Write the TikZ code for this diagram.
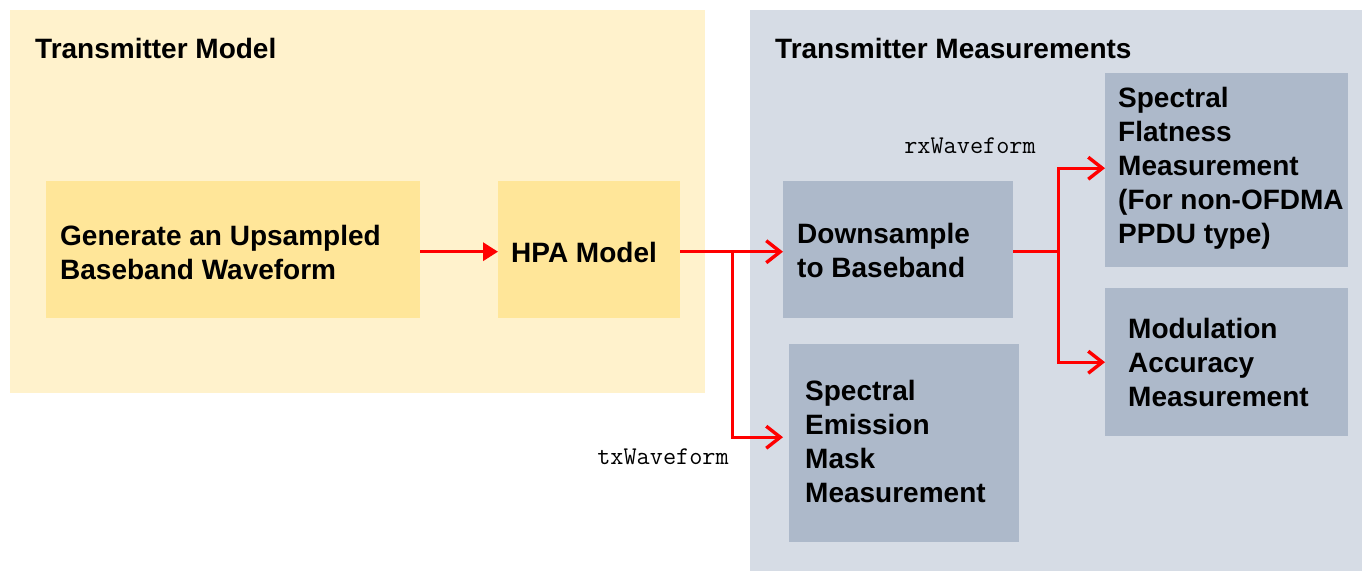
\documentclass[tikz,border=0pt]{standalone}
\usepackage{fontspec}
\setmainfont{Liberation Sans}
\usetikzlibrary{arrows.meta,calc}
\definecolor{creambg}{HTML}{FFF2CC}
\definecolor{yelbox}{HTML}{FFE699}
\definecolor{bluebg}{HTML}{D6DCE5}
\definecolor{bluebox}{HTML}{ADB9CA}
\begin{document}
\begin{tikzpicture}[x=1pt,y=-1pt,
  region/.style={fill=#1, draw=none, inner sep=0pt, anchor=north west},
  boxnode/.style={fill=#1, draw=none, inner sep=0pt, anchor=north west},
  lbl/.style={font=\bfseries\fontsize{28}{34}\selectfont, align=left, anchor=west, inner sep=0pt},
  titletxt/.style={font=\bfseries\fontsize{28}{34}\selectfont, anchor=west, inner sep=0pt},
  code/.style={font=\ttfamily\fontsize{25.5}{30}\selectfont, inner sep=0pt},
  wire/.style={draw=red, line width=3.4pt},
  flow/.style={wire, -{Straight Barb[length=14pt,width=22pt]}},
  flowfill/.style={wire, -{Triangle[length=15pt,width=18pt]}},
]
\useasboundingbox[fill=white] (0,0) rectangle (1362,571);
% regions
\node[region=creambg, minimum width=695pt, minimum height=383pt] (txreg) at (10,10) {};
\node[region=bluebg, minimum width=612pt, minimum height=561pt] (msreg) at (750,10) {};
\node[titletxt] (txtitle) at (35,48) {Transmitter Model};
\node[titletxt] (mstitle) at (775,48) {Transmitter Measurements};
% boxes
\node[boxnode=yelbox, minimum width=374pt, minimum height=137pt] (gen) at (46,181) {};
\node[boxnode=yelbox, minimum width=182pt, minimum height=137pt] (hpa) at (498,181) {};
\node[boxnode=bluebox, minimum width=230pt, minimum height=137pt] (down) at (783,181) {};
\node[boxnode=bluebox, minimum width=230pt, minimum height=198pt] (spem) at (789,344) {};
\node[boxnode=bluebox, minimum width=243pt, minimum height=194pt] (sf) at (1105,73) {};
\node[boxnode=bluebox, minimum width=243pt, minimum height=148pt] (mod) at (1105,288) {};
% texts
\node[lbl] (gentxt) at ([xshift=14pt,yshift=-3pt]gen.west) {Generate an Upsampled\\Baseband Waveform};
\node[lbl] (hpatxt) at ([xshift=13pt,yshift=-3pt]hpa.west) {HPA Model};
\node[lbl] (downtxt) at ([xshift=14pt,yshift=-1pt]down.west) {Downsample\\to Baseband};
\node[lbl] (spemtxt) at ([xshift=16pt,yshift=2pt]spem.west) {Spectral\\Emission\\Mask\\Measurement};
\node[lbl] (sftxt) at ([xshift=13pt,yshift=2pt]sf.west) {Spectral\\Flatness\\Measurement\\(For non-OFDMA\\PPDU type)};
\node[lbl] (modtxt) at ([xshift=23pt]mod.west) {Modulation\\Accuracy\\Measurement};
% code labels
\node[code] (rxlbl) at (970,146) {rxWaveform};
\node[code] (txlbl) at (663,457) {txWaveform};
% connectors
\draw[flowfill] ([yshift=-2pt]gen.east) -- ([yshift=-2pt]hpa.west);
\draw[flow] ([yshift=-2pt]hpa.east) -- ([yshift=-2pt]down.west);
\coordinate (j1) at ([xshift=52pt,yshift=-2pt]hpa.east);
\draw[flow] (j1) |- ([yshift=6pt,xshift=-6pt]spem.west);
\coordinate (j2) at ([xshift=45pt,yshift=-2pt]down.east);
\draw[wire] ([yshift=-2pt]down.east) -- (j2);
\draw[flow] (j2) |- ([yshift=2pt]sf.west);
\draw[flow] (j2) |- (mod.west);
\end{tikzpicture}
\end{document}
